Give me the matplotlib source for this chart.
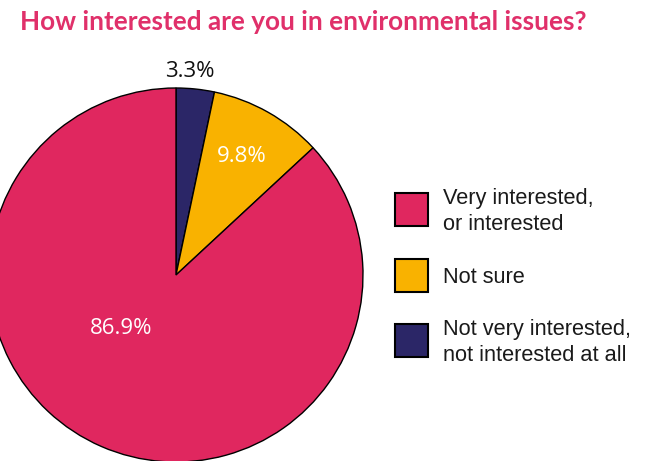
import matplotlib.pyplot as plt
from matplotlib.patches import Rectangle

# Survey shares, listed clockwise from the top of the pie
categories = ["Not very interested,\nnot interested at all", "Not sure", "Very interested,\nor interested"]
shares = [3.3, 9.8, 86.9]
colors = ["#2B2667", "#F9B200", "#E0275F"]
label_colors = ["#111111", "white", "white"]

legend_order = [2, 1, 0]

W, H = 646, 461
fig = plt.figure(figsize=(W / 100, H / 100), dpi=100)
ax = fig.add_axes([0, 0, 1, 1])

cx, cy, r = 176, H - 275, 187
wedges, _ = ax.pie(
    shares, colors=colors, startangle=90, counterclock=False,
    center=(cx, cy), radius=r, frame=True,
    wedgeprops=dict(edgecolor="black", linewidth=1.0),
)
ax.set_xlim(0, W)
ax.set_ylim(0, H)
ax.axis("off")

label_pos = [(190, H - 72), (242, H - 157), (121, H - 329)]
for val, (x, y), c in zip(shares, label_pos, label_colors):
    ax.text(x, y, f"{val:.1f}%", color=c, fontsize=16, family="Open Sans",
            ha="center", va="center")

fig.text(20 / W, 1 - 22 / H, "How interested are you in environmental issues?",
         color="#E0306A", fontsize=18.8, fontweight="bold", family="Lato",
         ha="left", va="center")

# Legend: swatches with two-line labels
box_tops = [193, 259, 324]
for idx, top in zip(legend_order, box_tops):
    ax.add_patch(Rectangle((395, H - top - 33), 33, 33, facecolor=colors[idx],
                           edgecolor="black", linewidth=1.5, clip_on=False))
    ax.text(443, H - top - 18.5, categories[idx], fontsize=15.7,
            family="Liberation Sans", color="#1a1a1a", ha="left", va="center",
            linespacing=1.3)

fig.savefig("out.png", dpi=100)
